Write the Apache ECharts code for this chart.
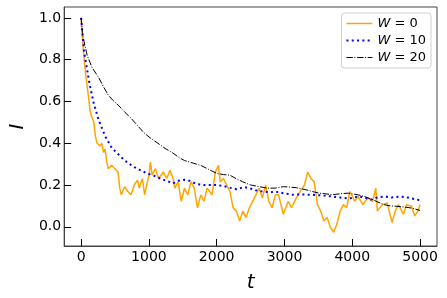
<!DOCTYPE html>
<html>
<head>
<meta charset="utf-8">
<script src="https://cdn.jsdelivr.net/npm/echarts@6/dist/echarts.min.js"></script>
<style>html,body{margin:0;padding:0;background:#fff}#c{width:447px;height:298px}</style>
</head>
<body>
<div id="c"></div>
<script>
// W = 0 (orange)
var tW0 = [0,19,43,67,91,115,129,153,187,211,234,283,306,330,354,378,402,450,498,545,570,593,641,689,736,784,832,857,904,937,1000,1023,1047,1095,1143,1215,1262,1310,1334,1358,1382,1430,1478,1525,1573,1621,1669,1717,1765,1812,1860,1932,1980,2027,2051,2099,2147,2195,2243,2291,2338,2386,2434,2482,2530,2578,2626,2674,2722,2769,2817,2865,2913,2984,3056,3104,3175,3247,3295,3343,3390,3438,3486,3534,3582,3630,3678,3726,3773,3821,3869,3917,3965,4036,4084,4108,4156,4228,4300,4347,4371,4443,4515,4587,4634,4682,4754,4802,4874,4921,4969,5000];
var IW0 = [1.0,0.90,0.81,0.73,0.668,0.606,0.56,0.53,0.50,0.434,0.40,0.387,0.40,0.356,0.372,0.31,0.278,0.294,0.278,0.262,0.185,0.153,0.192,0.169,0.153,0.20,0.223,0.185,0.231,0.153,0.247,0.31,0.247,0.278,0.231,0.262,0.231,0.27,0.262,0.231,0.185,0.215,0.122,0.185,0.153,0.215,0.185,0.091,0.153,0.122,0.185,0.153,0.262,0.294,0.215,0.231,0.20,0.169,0.091,0.075,0.028,0.075,0.044,0.091,0.122,0.153,0.185,0.138,0.20,0.122,0.091,0.153,0.153,0.06,0.122,0.091,0.138,0.177,0.20,0.262,0.231,0.215,0.106,0.075,0.028,0.044,-0.003,-0.026,0.013,0.075,0.106,0.091,0.169,0.122,0.145,0.138,0.106,0.138,0.122,0.185,0.075,0.106,0.114,0.02,0.075,0.106,0.06,0.106,0.098,0.052,0.075,0.106];
// W = 10 (blue)
var tW10 = [0,43,91,124,187,258,354,450,593,690,784,880,975,1070,1167,1260,1358,1430,1525,1600,1700,1812,1932,2004,2100,2219,2291,2400,2482,2574,2674,2793,2865,2990,3127,3250,3415,3550,3701,3820,3941,3989,4084,4180,4276,4370,4467,4580,4706,4820,4945,5000];
var IW10 = [1.0,0.84,0.747,0.684,0.59,0.512,0.434,0.379,0.333,0.305,0.286,0.27,0.255,0.245,0.231,0.22,0.208,0.22,0.225,0.22,0.205,0.20,0.20,0.20,0.195,0.185,0.18,0.19,0.185,0.175,0.169,0.165,0.169,0.16,0.153,0.155,0.153,0.15,0.145,0.14,0.135,0.138,0.145,0.14,0.13,0.14,0.145,0.14,0.145,0.14,0.13,0.128];
// W = 20 (black)
var tW20 = [0,20,43,90,162,258,330,402,470,545,640,736,830,928,1020,1119,1240,1358,1450,1525,1650,1765,1880,2004,2100,2195,2290,2386,2500,2626,2750,2865,2984,3080,3175,3319,3420,3510,3600,3701,3820,3941,4084,4180,4300,4380,4467,4560,4658,4750,4850,4930,5000];
var IW20 = [1.0,0.93,0.887,0.82,0.762,0.715,0.67,0.63,0.605,0.583,0.55,0.52,0.485,0.45,0.425,0.403,0.375,0.352,0.33,0.317,0.305,0.294,0.275,0.255,0.25,0.247,0.23,0.215,0.20,0.192,0.185,0.185,0.192,0.19,0.187,0.177,0.168,0.161,0.158,0.153,0.158,0.161,0.153,0.145,0.13,0.118,0.106,0.10,0.098,0.095,0.091,0.085,0.078];
var xTicks = [0,1000,2000,3000,4000,5000];
var yTicks = [0,0.2,0.4,0.6,0.8,1.0];
var legendNames = ['W = 0','W = 10','W = 20'];

function pairs(t, v){ return t.map(function(x,i){ return [x, v[i]]; }); }
var chart = echarts.init(document.getElementById('c'));
var font = 'DejaVu Sans';
var styles = [
  {color: '#FFA500', width: 1.5, type: 'solid'},
  {color: '#0000FF', width: 2, type: [2, 3.3]},
  {color: '#000000', width: 1, type: [6.4, 1.6, 1, 1.6]}
];
chart.setOption({
  animation: false,
  backgroundColor: '#fff',
  grid: {left: 54.5, top: 7, right: 10, bottom: 46, show: true, borderColor: '#444', borderWidth: 1, containLabel: false},
  legend: {
    data: legendNames.map(function(n, i){ return {name: n, itemStyle: {opacity: 0}, lineStyle: styles[i]}; }),
    orient: 'vertical', right: 16, top: 13,
    backgroundColor: '#fff', borderColor: '#d0d0d0', borderWidth: 1, borderRadius: 3,
    padding: [4, 5, 4, 4], itemWidth: 26, itemHeight: 14, itemGap: 4,
    formatter: function(n){ var p = n.split(' = '); return '{i|' + p[0] + '}{n| = ' + p[1] + '}'; },
    textStyle: {fontFamily: font, fontSize: 13, color: '#000',
      rich: {i: {fontFamily: font, fontStyle: 'italic', fontSize: 13, color:'#000'}, n: {fontFamily: font, fontSize: 13, color:'#000'}}}
  },
  xAxis: {
    type: 'value', min: -250, max: 5250,
    name: 't', nameLocation: 'middle', nameGap: 27,
    nameTextStyle: {fontFamily: font, fontStyle: 'italic', fontSize: 20, color: '#000'},
    axisLine: {show: true, onZero: false, lineStyle: {color: '#444', width: 1}},
    axisTick: {show: true, inside: true, length: 7, customValues: xTicks, lineStyle: {color: '#000', width: 1}},
    axisLabel: {customValues: xTicks, fontFamily: font, fontSize: 14, color: '#000', margin: 4,
      formatter: function(v){ return String(Math.round(v)); }},
    splitLine: {show: false}
  },
  yAxis: {
    type: 'value', min: -0.092, max: 1.052,
    name: 'I', nameLocation: 'middle', nameGap: 35, nameRotate: 90,
    nameTextStyle: {fontFamily: font, fontStyle: 'italic', fontSize: 20, color: '#000'},
    axisLine: {show: true, onZero: false, lineStyle: {color: '#444', width: 1}},
    axisTick: {show: true, inside: true, length: 7, customValues: yTicks, lineStyle: {color: '#000', width: 1}},
    axisLabel: {customValues: yTicks, fontFamily: font, fontSize: 14, color: '#000', margin: 3,
      formatter: function(v){ return v.toFixed(1); }},
    splitLine: {show: false}
  },
  series: [
    {name: legendNames[0], type: 'line', data: pairs(tW0, IW0), symbol: 'none', z: 2,
      lineStyle: styles[0], itemStyle: {color: styles[0].color}},
    {name: legendNames[1], type: 'line', data: pairs(tW10, IW10), symbol: 'none', z: 3,
      lineStyle: styles[1], itemStyle: {color: styles[1].color}},
    {name: legendNames[2], type: 'line', data: pairs(tW20, IW20), symbol: 'none', z: 4,
      lineStyle: styles[2], itemStyle: {color: styles[2].color}}
  ]
});
</script>
</body>
</html>
